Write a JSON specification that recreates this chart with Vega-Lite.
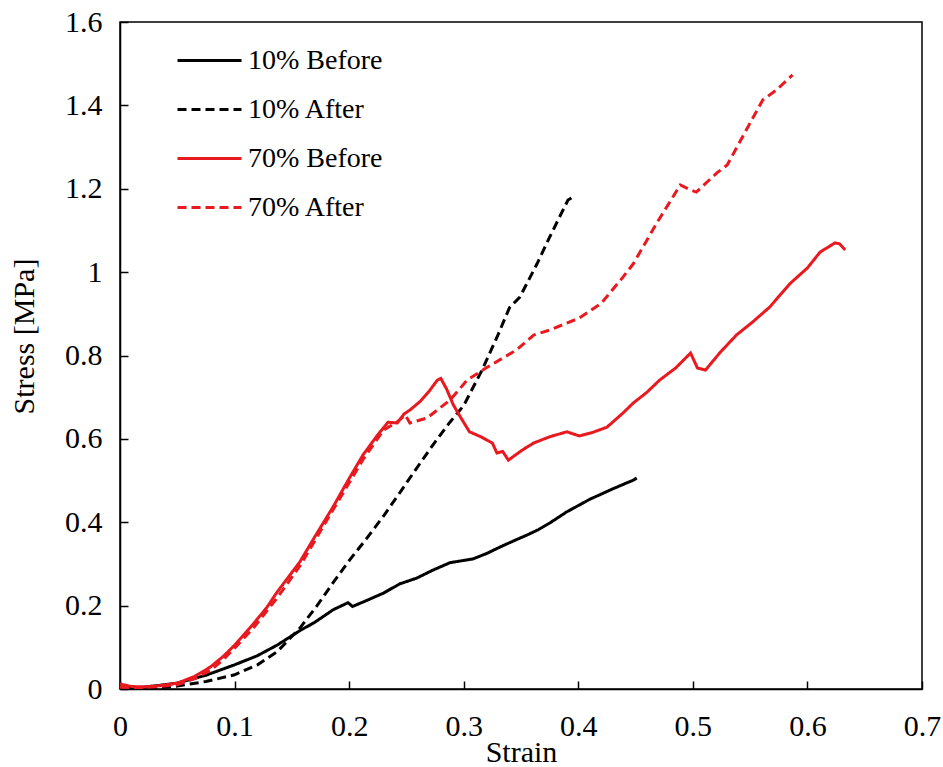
{
  "$schema": "https://vega.github.io/schema/vega-lite/v6.json",
  "width": 802,
  "height": 667,
  "autosize": {"type": "none"},
  "padding": {"left": 120, "top": 22, "right": 21, "bottom": 78},
  "background": "white",
  "config": {
    "font": "Liberation Serif",
    "view": {"stroke": "black", "strokeWidth": 1.5},
    "axis": {"grid": false, "domainColor": "black", "domainWidth": 1.5, "tickColor": "black", "tickWidth": 1.5, "labelColor": "black", "titleColor": "black", "labelFont": "Liberation Serif", "titleFont": "Liberation Serif", "labelFontSize": 30, "titleFontSize": 30, "titleFontWeight": "normal"}
  },
  "data": {"values": [
    {"s":"10% Before","strain":0,"stress":0.003},
    {"s":"10% Before","strain":0.02,"stress":0.004},
    {"s":"10% Before","strain":0.05,"stress":0.014},
    {"s":"10% Before","strain":0.075,"stress":0.033},
    {"s":"10% Before","strain":0.1,"stress":0.058},
    {"s":"10% Before","strain":0.12,"stress":0.08},
    {"s":"10% Before","strain":0.137,"stress":0.105},
    {"s":"10% Before","strain":0.157,"stress":0.14},
    {"s":"10% Before","strain":0.17,"stress":0.16},
    {"s":"10% Before","strain":0.186,"stress":0.19},
    {"s":"10% Before","strain":0.199,"stress":0.207},
    {"s":"10% Before","strain":0.203,"stress":0.198},
    {"s":"10% Before","strain":0.215,"stress":0.212},
    {"s":"10% Before","strain":0.23,"stress":0.23},
    {"s":"10% Before","strain":0.244,"stress":0.252},
    {"s":"10% Before","strain":0.259,"stress":0.266},
    {"s":"10% Before","strain":0.273,"stress":0.285},
    {"s":"10% Before","strain":0.288,"stress":0.303},
    {"s":"10% Before","strain":0.308,"stress":0.312},
    {"s":"10% Before","strain":0.32,"stress":0.325},
    {"s":"10% Before","strain":0.332,"stress":0.341},
    {"s":"10% Before","strain":0.345,"stress":0.357},
    {"s":"10% Before","strain":0.355,"stress":0.369},
    {"s":"10% Before","strain":0.365,"stress":0.382},
    {"s":"10% Before","strain":0.375,"stress":0.398},
    {"s":"10% Before","strain":0.39,"stress":0.425},
    {"s":"10% Before","strain":0.41,"stress":0.455},
    {"s":"10% Before","strain":0.43,"stress":0.48},
    {"s":"10% Before","strain":0.448,"stress":0.501},
    {"s":"10% Before","strain":0.451,"stress":0.506},

    {"s":"10% After","strain":0,"stress":0},
    {"s":"10% After","strain":0.03,"stress":0.002},
    {"s":"10% After","strain":0.05,"stress":0.007},
    {"s":"10% After","strain":0.075,"stress":0.018},
    {"s":"10% After","strain":0.1,"stress":0.034},
    {"s":"10% After","strain":0.12,"stress":0.058},
    {"s":"10% After","strain":0.137,"stress":0.089},
    {"s":"10% After","strain":0.157,"stress":0.146},
    {"s":"10% After","strain":0.172,"stress":0.2},
    {"s":"10% After","strain":0.186,"stress":0.255},
    {"s":"10% After","strain":0.2,"stress":0.308},
    {"s":"10% After","strain":0.215,"stress":0.36},
    {"s":"10% After","strain":0.23,"stress":0.415},
    {"s":"10% After","strain":0.244,"stress":0.47},
    {"s":"10% After","strain":0.259,"stress":0.53},
    {"s":"10% After","strain":0.273,"stress":0.585},
    {"s":"10% After","strain":0.288,"stress":0.64},
    {"s":"10% After","strain":0.3,"stress":0.68},
    {"s":"10% After","strain":0.316,"stress":0.765},
    {"s":"10% After","strain":0.33,"stress":0.85},
    {"s":"10% After","strain":0.34,"stress":0.915},
    {"s":"10% After","strain":0.349,"stress":0.94},
    {"s":"10% After","strain":0.364,"stress":1.02},
    {"s":"10% After","strain":0.375,"stress":1.084},
    {"s":"10% After","strain":0.391,"stress":1.173},
    {"s":"10% After","strain":0.394,"stress":1.178},

    {"s":"70% Before","strain":0,"stress":0.012},
    {"s":"70% Before","strain":0.01,"stress":0.006},
    {"s":"70% Before","strain":0.02,"stress":0.005},
    {"s":"70% Before","strain":0.035,"stress":0.008},
    {"s":"70% Before","strain":0.05,"stress":0.014},
    {"s":"70% Before","strain":0.065,"stress":0.03},
    {"s":"70% Before","strain":0.079,"stress":0.053},
    {"s":"70% Before","strain":0.09,"stress":0.078},
    {"s":"70% Before","strain":0.1,"stress":0.105},
    {"s":"70% Before","strain":0.116,"stress":0.155},
    {"s":"70% Before","strain":0.128,"stress":0.195},
    {"s":"70% Before","strain":0.137,"stress":0.232},
    {"s":"70% Before","strain":0.157,"stress":0.305},
    {"s":"70% Before","strain":0.17,"stress":0.365},
    {"s":"70% Before","strain":0.186,"stress":0.437},
    {"s":"70% Before","strain":0.2,"stress":0.505},
    {"s":"70% Before","strain":0.212,"stress":0.561},
    {"s":"70% Before","strain":0.225,"stress":0.61},
    {"s":"70% Before","strain":0.234,"stress":0.64},
    {"s":"70% Before","strain":0.242,"stress":0.638},
    {"s":"70% Before","strain":0.248,"stress":0.66},
    {"s":"70% Before","strain":0.253,"stress":0.669},
    {"s":"70% Before","strain":0.262,"stress":0.69},
    {"s":"70% Before","strain":0.27,"stress":0.715},
    {"s":"70% Before","strain":0.277,"stress":0.741},
    {"s":"70% Before","strain":0.28,"stress":0.745},
    {"s":"70% Before","strain":0.285,"stress":0.72},
    {"s":"70% Before","strain":0.291,"stress":0.681},
    {"s":"70% Before","strain":0.297,"stress":0.653},
    {"s":"70% Before","strain":0.305,"stress":0.617},
    {"s":"70% Before","strain":0.315,"stress":0.605},
    {"s":"70% Before","strain":0.325,"stress":0.59},
    {"s":"70% Before","strain":0.329,"stress":0.566},
    {"s":"70% Before","strain":0.334,"stress":0.57},
    {"s":"70% Before","strain":0.339,"stress":0.549},
    {"s":"70% Before","strain":0.351,"stress":0.573},
    {"s":"70% Before","strain":0.361,"stress":0.59},
    {"s":"70% Before","strain":0.375,"stress":0.605},
    {"s":"70% Before","strain":0.39,"stress":0.617},
    {"s":"70% Before","strain":0.401,"stress":0.607},
    {"s":"70% Before","strain":0.412,"stress":0.615},
    {"s":"70% Before","strain":0.425,"stress":0.628},
    {"s":"70% Before","strain":0.439,"stress":0.662},
    {"s":"70% Before","strain":0.448,"stress":0.686},
    {"s":"70% Before","strain":0.46,"stress":0.712},
    {"s":"70% Before","strain":0.471,"stress":0.741},
    {"s":"70% Before","strain":0.485,"stress":0.77},
    {"s":"70% Before","strain":0.498,"stress":0.806},
    {"s":"70% Before","strain":0.504,"stress":0.77},
    {"s":"70% Before","strain":0.511,"stress":0.765},
    {"s":"70% Before","strain":0.524,"stress":0.808},
    {"s":"70% Before","strain":0.538,"stress":0.849},
    {"s":"70% Before","strain":0.552,"stress":0.88},
    {"s":"70% Before","strain":0.567,"stress":0.916},
    {"s":"70% Before","strain":0.585,"stress":0.973},
    {"s":"70% Before","strain":0.6,"stress":1.01},
    {"s":"70% Before","strain":0.611,"stress":1.048},
    {"s":"70% Before","strain":0.624,"stress":1.07},
    {"s":"70% Before","strain":0.628,"stress":1.068},
    {"s":"70% Before","strain":0.633,"stress":1.053},

    {"s":"70% After","strain":0,"stress":0.004},
    {"s":"70% After","strain":0.02,"stress":0.003},
    {"s":"70% After","strain":0.05,"stress":0.01},
    {"s":"70% After","strain":0.065,"stress":0.025},
    {"s":"70% After","strain":0.079,"stress":0.045},
    {"s":"70% After","strain":0.09,"stress":0.07},
    {"s":"70% After","strain":0.1,"stress":0.098},
    {"s":"70% After","strain":0.116,"stress":0.145},
    {"s":"70% After","strain":0.137,"stress":0.218},
    {"s":"70% After","strain":0.157,"stress":0.295},
    {"s":"70% After","strain":0.186,"stress":0.43},
    {"s":"70% After","strain":0.212,"stress":0.55},
    {"s":"70% After","strain":0.23,"stress":0.621},
    {"s":"70% After","strain":0.242,"stress":0.641},
    {"s":"70% After","strain":0.249,"stress":0.657},
    {"s":"70% After","strain":0.253,"stress":0.638},
    {"s":"70% After","strain":0.268,"stress":0.65},
    {"s":"70% After","strain":0.288,"stress":0.693},
    {"s":"70% After","strain":0.303,"stress":0.741},
    {"s":"70% After","strain":0.32,"stress":0.771},
    {"s":"70% After","strain":0.346,"stress":0.813},
    {"s":"70% After","strain":0.361,"stress":0.849},
    {"s":"70% After","strain":0.375,"stress":0.861},
    {"s":"70% After","strain":0.401,"stress":0.89},
    {"s":"70% After","strain":0.42,"stress":0.925},
    {"s":"70% After","strain":0.439,"stress":0.988},
    {"s":"70% After","strain":0.448,"stress":1.02},
    {"s":"70% After","strain":0.469,"stress":1.12},
    {"s":"70% After","strain":0.489,"stress":1.209},
    {"s":"70% After","strain":0.498,"stress":1.197},
    {"s":"70% After","strain":0.503,"stress":1.192},
    {"s":"70% After","strain":0.521,"stress":1.238},
    {"s":"70% After","strain":0.53,"stress":1.257},
    {"s":"70% After","strain":0.55,"stress":1.358},
    {"s":"70% After","strain":0.561,"stress":1.413},
    {"s":"70% After","strain":0.573,"stress":1.437},
    {"s":"70% After","strain":0.587,"stress":1.473}
  ]},
  "mark": {"type": "line", "strokeWidth": 3, "clip": true},
  "encoding": {
    "x": {
      "field": "strain", "type": "quantitative", "title": "Strain",
      "scale": {"domain": [0, 0.7], "nice": false, "zero": false},
      "axis": {"values": [0, 0.1, 0.2, 0.3, 0.4, 0.5, 0.6, 0.7], "format": "~g", "tickSize": -8, "labelPadding": 30, "titlePadding": -4, "labelFlush": false}
    },
    "y": {
      "field": "stress", "type": "quantitative", "title": "Stress [MPa]",
      "scale": {"domain": [0, 1.6], "nice": false, "zero": false},
      "axis": {"values": [0, 0.2, 0.4, 0.6, 0.8, 1, 1.2, 1.4, 1.6], "format": "~g", "tickSize": -8, "labelPadding": 26, "titleX": -87, "titleY": 314, "titleBaseline": "alphabetic", "labelFlush": false}
    },
    "color": {
      "field": "s", "type": "nominal",
      "scale": {"domain": ["10% Before", "10% After", "70% Before", "70% After"], "range": ["black", "black", "#e8191f", "#e8191f"]},
      "legend": {"title": null, "orient": "none", "legendX": 56, "legendY": 5, "symbolType": "stroke", "symbolSize": 4096, "symbolStrokeWidth": 3, "labelFontSize": 28, "labelFont": "Liberation Serif", "labelColor": "black", "labelOffset": 5, "rowPadding": 1}
    },
    "strokeDash": {
      "field": "s", "type": "nominal",
      "scale": {"domain": ["10% Before", "10% After", "70% Before", "70% After"], "range": [[1, 0], [9, 5], [1, 0], [9, 5]]},
      "legend": {"title": null, "orient": "none", "legendX": 56, "legendY": 5, "symbolType": "stroke", "symbolSize": 4096, "symbolStrokeWidth": 3, "labelFontSize": 28, "labelFont": "Liberation Serif", "labelColor": "black", "labelOffset": 5, "rowPadding": 1}
    }
  }
}
